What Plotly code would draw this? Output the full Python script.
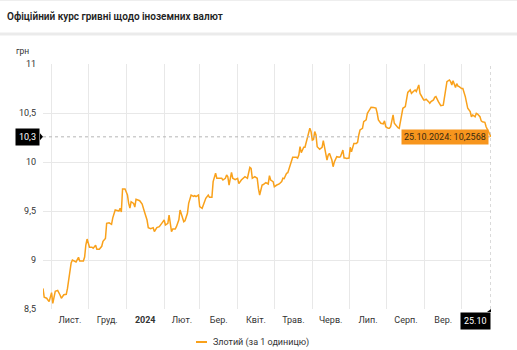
import pandas as pd
import plotly.graph_objects as go

# Official NBU hryvnia rate for the Polish zloty (UAH per 1 PLN)
dates = [
    "2023-10-25", "2023-10-26", "2023-10-28", "2023-10-30", "2023-11-01", "2023-11-02",
    "2023-11-04", "2023-11-06", "2023-11-08", "2023-11-09", "2023-11-11", "2023-11-13",
    "2023-11-14", "2023-11-15", "2023-11-17", "2023-11-18", "2023-11-20", "2023-11-21",
    "2023-11-23", "2023-11-24", "2023-11-27", "2023-11-28", "2023-11-29", "2023-11-30",
    "2023-12-02", "2023-12-04", "2023-12-05", "2023-12-07", "2023-12-08", "2023-12-10",
    "2023-12-12", "2023-12-13", "2023-12-15", "2023-12-16", "2023-12-18", "2023-12-20",
    "2023-12-21", "2023-12-22", "2023-12-23", "2023-12-26", "2023-12-27", "2023-12-28",
    "2023-12-29", "2023-12-31", "2024-01-02", "2024-01-03", "2024-01-04", "2024-01-05",
    "2024-01-07", "2024-01-08", "2024-01-09", "2024-01-12", "2024-01-13", "2024-01-14",
    "2024-01-16", "2024-01-18", "2024-01-19", "2024-01-21", "2024-01-23", "2024-01-24",
    "2024-01-26", "2024-01-28", "2024-01-30", "2024-02-01", "2024-02-02", "2024-02-04",
    "2024-02-05", "2024-02-07", "2024-02-08", "2024-02-10", "2024-02-11", "2024-02-13",
    "2024-02-14", "2024-02-16", "2024-02-17", "2024-02-18", "2024-02-20", "2024-02-21",
    "2024-02-23", "2024-02-25", "2024-02-26", "2024-02-27", "2024-02-29", "2024-03-01",
    "2024-03-03", "2024-03-04", "2024-03-06", "2024-03-08", "2024-03-09", "2024-03-11",
    "2024-03-12", "2024-03-14", "2024-03-15", "2024-03-16", "2024-03-19", "2024-03-20",
    "2024-03-22", "2024-03-23", "2024-03-24", "2024-03-25", "2024-03-27", "2024-03-28",
    "2024-03-30", "2024-04-01", "2024-04-02", "2024-04-04", "2024-04-06", "2024-04-07",
    "2024-04-09", "2024-04-11", "2024-04-12", "2024-04-13", "2024-04-15", "2024-04-17",
    "2024-04-18", "2024-04-19", "2024-04-21", "2024-04-22", "2024-04-24", "2024-04-26",
    "2024-04-27", "2024-04-28", "2024-04-30", "2024-05-01", "2024-05-03", "2024-05-05",
    "2024-05-07", "2024-05-08", "2024-05-09", "2024-05-11", "2024-05-12", "2024-05-14",
    "2024-05-15", "2024-05-16", "2024-05-19", "2024-05-20", "2024-05-21", "2024-05-22",
    "2024-05-23", "2024-05-25", "2024-05-26", "2024-05-28", "2024-05-30", "2024-05-31",
    "2024-06-01", "2024-06-02", "2024-06-03", "2024-06-04", "2024-06-05", "2024-06-07",
    "2024-06-08", "2024-06-09", "2024-06-10", "2024-06-12", "2024-06-13", "2024-06-14",
    "2024-06-15", "2024-06-17", "2024-06-18", "2024-06-19", "2024-06-20", "2024-06-21",
    "2024-06-23", "2024-06-24", "2024-06-26", "2024-06-27", "2024-06-28", "2024-06-29",
    "2024-07-01", "2024-07-02", "2024-07-03", "2024-07-05", "2024-07-07", "2024-07-08",
    "2024-07-09", "2024-07-10", "2024-07-12", "2024-07-13", "2024-07-15", "2024-07-16",
    "2024-07-18", "2024-07-19", "2024-07-21", "2024-07-23", "2024-07-24", "2024-07-25",
    "2024-07-27", "2024-07-29", "2024-07-30", "2024-07-31", "2024-08-02", "2024-08-03",
    "2024-08-04", "2024-08-06", "2024-08-07", "2024-08-09", "2024-08-10", "2024-08-11",
    "2024-08-13", "2024-08-14", "2024-08-16", "2024-08-17", "2024-08-18", "2024-08-20",
    "2024-08-21", "2024-08-23", "2024-08-24", "2024-08-25", "2024-08-27", "2024-08-28",
    "2024-08-30", "2024-08-31", "2024-09-01", "2024-09-02", "2024-09-04", "2024-09-05",
    "2024-09-06", "2024-09-08", "2024-09-09", "2024-09-10", "2024-09-12", "2024-09-13",
    "2024-09-14", "2024-09-16", "2024-09-17", "2024-09-18", "2024-09-19", "2024-09-21",
    "2024-09-22", "2024-09-23", "2024-09-24", "2024-09-26", "2024-09-27", "2024-09-28",
    "2024-09-29", "2024-10-01", "2024-10-02", "2024-10-04", "2024-10-05", "2024-10-06",
    "2024-10-08", "2024-10-09", "2024-10-10", "2024-10-12", "2024-10-13", "2024-10-14",
    "2024-10-16", "2024-10-17", "2024-10-18", "2024-10-20", "2024-10-21", "2024-10-23",
    "2024-10-25",
]
rates = [
    8.710, 8.620, 8.610, 8.575, 8.667, 8.558,
    8.680, 8.690, 8.640, 8.610, 8.645, 8.650,
    8.710, 8.800, 8.970, 9.000, 8.990, 8.980,
    9.027, 8.990, 8.990, 9.030, 9.153, 9.214,
    9.130, 9.130, 9.120, 9.150, 9.110, 9.110,
    9.140, 9.190, 9.220, 9.374, 9.380, 9.364,
    9.430, 9.476, 9.510, 9.500, 9.527, 9.490,
    9.724, 9.724, 9.663, 9.578, 9.530, 9.595,
    9.578, 9.540, 9.619, 9.605, 9.590, 9.570,
    9.487, 9.408, 9.330, 9.320, 9.330, 9.290,
    9.330, 9.340, 9.374, 9.408, 9.357, 9.374,
    9.459, 9.290, 9.316, 9.316, 9.340, 9.410,
    9.510, 9.410, 9.390, 9.400, 9.476, 9.578,
    9.663, 9.650, 9.656, 9.646, 9.663, 9.544,
    9.527, 9.561, 9.630, 9.663, 9.640, 9.640,
    9.800, 9.885, 9.834, 9.834, 9.834, 9.816,
    9.834, 9.867, 9.850, 9.765, 9.895, 9.834,
    9.820, 9.834, 9.780, 9.816, 9.834, 9.850,
    9.834, 9.946, 9.935, 9.834, 9.850, 9.834,
    9.730, 9.663, 9.765, 9.770, 9.790, 9.776,
    9.860, 9.816, 9.800, 9.748, 9.765, 9.776,
    9.800, 9.834, 9.830, 9.885, 9.890, 9.969,
    10.027, 10.048, 10.048, 10.040, 10.071, 10.156,
    10.095, 10.150, 10.150, 10.240, 10.344, 10.310,
    10.224, 10.230, 10.310, 10.276, 10.156, 10.130,
    10.140, 10.150, 10.217, 10.105, 10.020, 10.070,
    10.088, 10.020, 9.952, 10.000, 10.020, 10.054,
    10.048, 10.054, 10.122, 10.040, 10.040, 10.037,
    10.040, 10.150, 10.105, 10.190, 10.190, 10.200,
    10.276, 10.327, 10.344, 10.412, 10.430, 10.497,
    10.537, 10.558, 10.555, 10.550, 10.500, 10.429,
    10.395, 10.390, 10.420, 10.360, 10.344, 10.344,
    10.360, 10.480, 10.395, 10.360, 10.350, 10.344,
    10.480, 10.548, 10.565, 10.633, 10.710, 10.735,
    10.700, 10.725, 10.735, 10.720, 10.786, 10.700,
    10.650, 10.633, 10.633, 10.640, 10.616, 10.599,
    10.616, 10.633, 10.660, 10.667, 10.616, 10.599,
    10.575, 10.580, 10.667, 10.770, 10.820, 10.837,
    10.820, 10.786, 10.830, 10.760, 10.800, 10.775,
    10.770, 10.750, 10.750, 10.667, 10.600, 10.548,
    10.514, 10.462, 10.480, 10.462, 10.497, 10.490,
    10.462, 10.420, 10.410, 10.405, 10.360, 10.310,
    10.2568,
]

TITLE = "Офіційний курс гривні щодо іноземних валют"
UNIT = "грн"
SERIES_NAME = "Злотий (за 1 одиницю)"

# month boundaries (grid) and the month labels centred inside each month
month_starts = [
    "2023-11-01", "2023-12-01", "2024-01-01", "2024-02-01", "2024-03-01", "2024-04-01",
    "2024-05-01", "2024-06-01", "2024-07-01", "2024-08-01", "2024-09-01", "2024-10-01",
]
month_labels = ["Лист.", "Груд.", "<b>2024</b>", "Лют.", "Бер.", "Квіт.",
                "Трав.", "Черв.", "Лип.", "Серп.", "Вер."]
y_ticks = [8.5, 9, 9.5, 10, 10.5, 11]
y_range = [8.5, 11]

LINE_COLOR = "#f9a11b"
TIP_COLOR = "#f7951d"
GRID_COLOR = "#e8e8e8"
TEXT_COLOR = "#333333"
FONT = "Roboto"

starts = pd.to_datetime(month_starts)
label_pos = [s + (s + pd.offsets.MonthBegin(1) - s) / 2 for s in starts[:len(month_labels)]]

last_date = pd.Timestamp(dates[-1])
last_rate = rates[-1]

fig = go.Figure(
    go.Scatter(
        x=dates, y=rates, mode="lines", name=SERIES_NAME,
        line=dict(color=LINE_COLOR, width=1.5),
        showlegend=False, hoverinfo="skip",
    )
)

W, H = 517, 350
ML, MR, MT, MB = 43, 26, 64, 41
PW, PH = W - ML - MR, H - MT - MB


def px_x(px):
    return (px - ML) / PW


def px_y(py):
    return (H - MB - py) / PH


fig.update_layout(
    width=W, height=H,
    margin=dict(l=ML, r=MR, t=MT, b=MB, pad=0),
    paper_bgcolor="white", plot_bgcolor="white",
    separators=", ",
    font=dict(family=FONT, size=9, color=TEXT_COLOR),
    title=dict(
        text=TITLE, x=7 / W, xref="container", xanchor="left",
        y=1 - 16 / H, yref="container", yanchor="middle",
        font=dict(family=FONT, size=10, color="#222222", weight=600),
    ),
    xaxis=dict(
        range=[dates[0], dates[-1]],
        tickmode="array", tickvals=label_pos, ticktext=month_labels,
        showgrid=False, zeroline=False, showline=False, ticks="",
        ticklabelstandoff=4,
        tickfont=dict(size=9, color=TEXT_COLOR),
        minor=dict(tickvals=list(starts), showgrid=True, gridcolor=GRID_COLOR,
                   gridwidth=1, ticks=""),
        fixedrange=True,
    ),
    yaxis=dict(
        range=y_range, tickmode="array", tickvals=y_ticks,
        showgrid=True, gridcolor=GRID_COLOR, gridwidth=1,
        zeroline=False, showline=False, ticks="",
        ticklabelstandoff=6,
        tickfont=dict(size=9, color=TEXT_COLOR),
        fixedrange=True,
    ),
)

shapes = [
    # header separators
    dict(type="line", xref="paper", yref="paper", x0=px_x(0), x1=px_x(W),
         y0=px_y(0.5), y1=px_y(0.5), line=dict(color="#eeeeee", width=1)),
    dict(type="line", xref="paper", yref="paper", x0=px_x(0), x1=px_x(W),
         y0=px_y(34), y1=px_y(34), line=dict(color="#ebebeb", width=3)),
    # crosshair on the latest value
    dict(type="line", xref="paper", yref="y", x0=0, x1=1, y0=last_rate, y1=last_rate,
         line=dict(color="#b5b5b5", width=1, dash="dot")),
    dict(type="line", xref="x", yref="paper", x0=last_date, x1=last_date, y0=0, y1=1,
         line=dict(color="#b5b5b5", width=1, dash="dot")),
    # pointer of the y-axis value flag
    dict(type="path", xref="paper", yref="y", xsizemode="pixel", ysizemode="pixel",
         xanchor=0, yanchor=last_rate, path="M -3 -3.5 L 0 0 L -3 3.5 Z",
         fillcolor="black", line=dict(width=0)),
    # pointer of the x-axis date flag
    dict(type="path", xref="x", yref="paper", xsizemode="pixel", ysizemode="pixel",
         xanchor=last_date, yanchor=0, path="M -4 -3 L 0 0 L 0 -3 Z",
         fillcolor="black", line=dict(width=0)),
    # legend swatch
    dict(type="line", xref="paper", yref="paper", x0=px_x(196), x1=px_x(207),
         y0=px_y(342), y1=px_y(342), line=dict(color=LINE_COLOR, width=2)),
]
fig.update_layout(shapes=shapes)

value_flag = f"{last_rate:.1f}".replace(".", ",")
tip_text = f"{last_date:%d.%m.%Y}: {str(last_rate).replace('.', ',')}"

annotations = [
    dict(text=UNIT, xref="paper", yref="paper", x=px_x(22), y=px_y(51),
         xanchor="center", yanchor="middle", showarrow=False,
         font=dict(size=8.5, color=TEXT_COLOR)),
    dict(text=value_flag, xref="paper", yref="y", x=0, y=last_rate, xshift=-3,
         xanchor="right", yanchor="middle", showarrow=False, bgcolor="black",
         borderpad=3, font=dict(size=9, color="white")),
    dict(text=f"{last_date:%d.%m}", xref="x", yref="paper", x=last_date, y=0,
         yshift=-3, xanchor="right", yanchor="top", showarrow=False, bgcolor="black",
         borderpad=3, font=dict(size=9, color="white")),
    dict(text=tip_text, xref="x", yref="y", x=last_date, y=last_rate, xshift=-2,
         xanchor="right", yanchor="middle", showarrow=False, bgcolor=TIP_COLOR,
         borderpad=2, font=dict(size=9, color="#3a2a10")),
    dict(text=SERIES_NAME, xref="paper", yref="paper", x=px_x(211), y=px_y(342),
         xanchor="left", yanchor="middle", showarrow=False,
         font=dict(size=9, color=TEXT_COLOR)),
]
fig.update_layout(annotations=annotations)

fig.write_html("out.html", config={"displayModeBar": False})
